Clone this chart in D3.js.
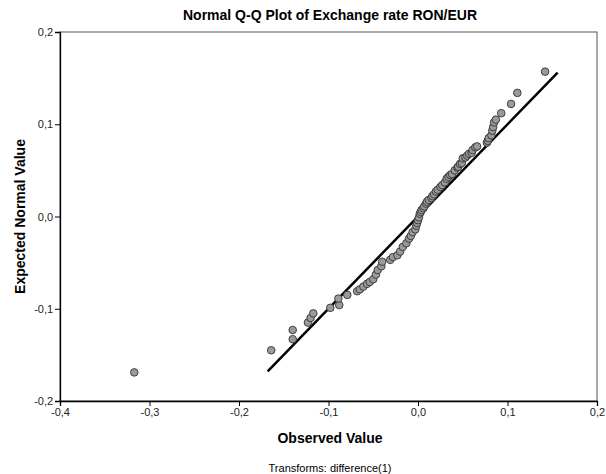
<!DOCTYPE html>
<html>
<head>
<meta charset="utf-8">
<script src="https://cdn.jsdelivr.net/npm/d3@7"></script>
<style>
  body { margin: 0; background: #fff; }
  text { font-family: "Liberation Sans", Arial, sans-serif; }
</style>
</head>
<body>
<div id="chart"></div>
<script>
var width = 606
var height = 474

// observed values (differenced RON/EUR), sorted
var observed = [-0.317, -0.164, -0.140, -0.140, -0.123, -0.120, -0.117, -0.098, -0.088, -0.089,
  -0.079, -0.068, -0.065, -0.061, -0.057, -0.054, -0.050, -0.047, -0.045, -0.041,
  -0.040, -0.031, -0.028, -0.023, -0.020, -0.017, -0.013, -0.010, -0.008, -0.006,
  -0.003, -0.002, -0.001, 0.000, 0.001, 0.002, 0.003, 0.004, 0.006, 0.007,
  0.009, 0.010, 0.012, 0.015, 0.016, 0.018, 0.020, 0.022, 0.025, 0.027,
  0.030, 0.032, 0.034, 0.036, 0.038, 0.041, 0.044, 0.045, 0.047, 0.049,
  0.050, 0.053, 0.055, 0.057, 0.060, 0.061, 0.064, 0.066, 0.077, 0.078,
  0.079, 0.082, 0.083, 0.084, 0.085, 0.087, 0.093, 0.104, 0.111, 0.142]

// expected normal values
var expected = [-0.169, -0.145, -0.133, -0.123, -0.115, -0.110, -0.105, -0.099, -0.096, -0.089,
  -0.085, -0.081, -0.079, -0.076, -0.073, -0.071, -0.068, -0.063, -0.058, -0.054,
  -0.049, -0.047, -0.044, -0.042, -0.038, -0.033, -0.029, -0.024, -0.021, -0.017,
  -0.014, -0.010, -0.007, -0.004, -0.001, 0.003, 0.005, 0.007, 0.009, 0.011,
  0.014, 0.016, 0.018, 0.020, 0.022, 0.024, 0.027, 0.029, 0.032, 0.034,
  0.037, 0.041, 0.043, 0.045, 0.046, 0.050, 0.053, 0.054, 0.057, 0.058,
  0.063, 0.064, 0.066, 0.068, 0.069, 0.072, 0.075, 0.076, 0.080, 0.082,
  0.085, 0.088, 0.093, 0.097, 0.102, 0.105, 0.112, 0.122, 0.134, 0.157]

var refLine = [-0.168, 0.156]   // y = x reference line ends
var xTicks = [-0.4, -0.3, -0.2, -0.1, 0.0, 0.1, 0.2]
var yTicks = [-0.2, -0.1, 0.0, 0.1, 0.2]

var margin = {top: 32, right: 9, bottom: 73, left: 60}

var svg = d3.select("#chart")
  .append("svg")
  .attr("width", width)
  .attr("height", height)

var x = d3.scaleLinear().domain([-0.4, 0.2]).range([margin.left, width - margin.right])
var y = d3.scaleLinear().domain([-0.2, 0.2]).range([height - margin.bottom, margin.top])

var fmt = function(d) { return d3.format(".1f")(d).replace(".", ",").replace("−", "-") }

// frame (top/right)
svg.append("rect")
  .attr("x", x(-0.4))
  .attr("y", y(0.2))
  .attr("width", x(0.2) - x(-0.4))
  .attr("height", y(-0.2) - y(0.2))
  .attr("fill", "none")
  .attr("stroke", "#555")
  .attr("stroke-width", 1)

var xAxis = svg.append("g")
  .attr("transform", "translate(0," + y(-0.2) + ")")
  .call(d3.axisBottom(x).tickValues(xTicks).tickFormat(fmt).tickSizeOuter(0).tickSize(5))
var yAxis = svg.append("g")
  .attr("transform", "translate(" + x(-0.4) + ",0)")
  .call(d3.axisLeft(y).tickValues(yTicks).tickFormat(fmt).tickSizeOuter(0).tickSize(5))

svg.selectAll(".domain").attr("stroke", "#000").attr("stroke-width", 1.3)
svg.selectAll(".tick line").attr("stroke", "#000")
xAxis.selectAll("text").attr("font-size", 11).attr("fill", "#222").attr("dy", "0.6em")
yAxis.selectAll("text").attr("font-size", 11).attr("fill", "#222").attr("dx", "0.1em")
svg.selectAll(".tick text").style("font-family", "'Liberation Sans', Arial, sans-serif")

// reference line
svg.append("line")
  .attr("x1", x(refLine[0]))
  .attr("y1", y(refLine[0]))
  .attr("x2", x(refLine[1]))
  .attr("y2", y(refLine[1]))
  .attr("stroke", "#000")
  .attr("stroke-width", 2.5)

var pts = observed.map(function(d, i) { return {o: d, e: expected[i]} })

svg.append("g")
  .selectAll("circle")
  .data(pts)
  .enter().append("circle")
  .attr("cx", function(d) { return x(d.o) })
  .attr("cy", function(d) { return y(d.e) })
  .attr("r", 3.8)
  .attr("fill", "#9a9a9a")
  .attr("stroke", "#333")
  .attr("stroke-width", 0.9)

svg.append("text")
  .attr("x", 330)
  .attr("y", 20)
  .attr("text-anchor", "middle")
  .attr("font-size", 14)
  .attr("font-weight", "bold")
  .text("Normal Q-Q Plot of Exchange rate RON/EUR")

svg.append("text")
  .attr("x", 330)
  .attr("y", 443)
  .attr("text-anchor", "middle")
  .attr("font-size", 14)
  .attr("font-weight", "bold")
  .text("Observed Value")

svg.append("text")
  .attr("transform", "translate(25," + y(0) + ") rotate(-90)")
  .attr("text-anchor", "middle")
  .attr("font-size", 14)
  .attr("font-weight", "bold")
  .text("Expected Normal Value")

svg.append("text")
  .attr("x", 330)
  .attr("y", 472)
  .attr("text-anchor", "middle")
  .attr("font-size", 11)
  .text("Transforms: difference(1)")
</script>
</body>
</html>
